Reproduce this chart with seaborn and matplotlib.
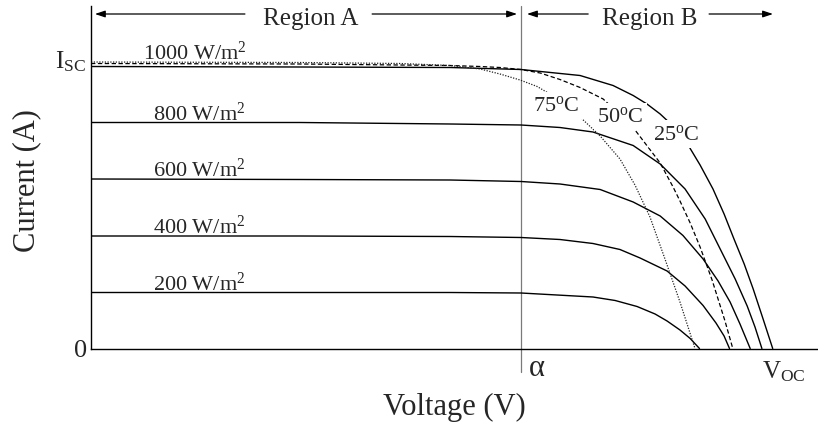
import matplotlib
matplotlib.use("Agg")
import matplotlib.pyplot as plt
import seaborn as sns

# I-V characteristics of a PV module (voltage in V, current in A)
# irradiance series at 25 C
v_1000 = [0, 6.97, 11.97, 14.33, 16.30, 17.40, 18.07, 18.53, 18.97, 19.47, 19.90,
          20.30, 20.73, 21.10, 21.43, 21.77, 22.07, 22.40, 22.72]
i_1000 = [5.64, 5.63, 5.62, 5.58, 5.46, 5.26, 5.06, 4.89, 4.69, 4.41, 4.07,
          3.67, 3.19, 2.69, 2.19, 1.69, 1.19, 0.59, 0]

v_800 = [0, 6.97, 11.97, 14.33, 15.63, 16.73, 18.07, 18.97, 19.80, 20.47, 21.07,
         21.47, 21.87, 22.13, 22.36]
i_800 = [4.52, 4.52, 4.49, 4.47, 4.42, 4.33, 4.06, 3.69, 3.19, 2.59, 1.87,
         1.39, 0.85, 0.43, 0]

v_600 = [0, 6.97, 11.97, 14.33, 15.63, 16.97, 18.07, 18.97, 19.73, 20.40, 20.90,
         21.30, 21.63, 21.97]
i_600 = [3.39, 3.38, 3.37, 3.34, 3.29, 3.18, 2.93, 2.65, 2.26, 1.79, 1.35,
         0.93, 0.49, 0]

v_400 = [0, 6.97, 11.97, 14.33, 15.63, 16.73, 17.63, 18.30, 19.20, 19.80, 20.40,
         20.83, 21.10, 21.28]
i_400 = [2.25, 2.25, 2.24, 2.22, 2.18, 2.10, 1.98, 1.81, 1.55, 1.25, 0.86,
         0.51, 0.25, 0]

v_200 = [0, 6.97, 11.97, 14.33, 16.73, 17.47, 18.20, 18.80, 19.20, 19.63, 19.97, 20.28]
i_200 = [1.12, 1.12, 1.12, 1.11, 1.03, 0.96, 0.84, 0.69, 0.55, 0.37, 0.20, 0]

# temperature series at 1000 W/m2
v_50c = [0, 6.97, 11.97, 12.97, 13.63, 14.33, 14.97, 15.63, 16.30, 17.07, 18.03,
         18.97, 19.40, 19.63, 19.97, 20.30, 20.70, 21.13, 21.39]
i_50c = [5.70, 5.69, 5.66, 5.64, 5.62, 5.58, 5.51, 5.38, 5.22, 4.99, 4.45,
         3.71, 3.23, 2.95, 2.51, 2.03, 1.37, 0.55, 0]

v_75c = [0, 6.97, 10.30, 11.97, 12.97, 13.63, 14.30, 14.87, 15.63, 16.30, 16.97,
         17.63, 18.13, 18.63, 19.13, 19.63, 20.13]
i_75c = [5.73, 5.72, 5.70, 5.66, 5.59, 5.49, 5.37, 5.24, 4.97, 4.63, 4.25,
         3.79, 3.27, 2.63, 1.79, 0.93, 0]

irradiance_labels = ["1000 W/m$^2$", "800 W/m$^2$", "600 W/m$^2$",
                     "400 W/m$^2$", "200 W/m$^2$"]
temperature_labels = ["75$^\\mathrm{o}$C", "50$^\\mathrm{o}$C", "25$^\\mathrm{o}$C"]

v_alpha = 14.33          # boundary between the two regions
v_oc = 22.72             # open-circuit voltage at 1000 W/m2, 25 C
i_sc = 5.64              # short-circuit current at 1000 W/m2, 25 C

sns.set_theme(style="white")
plt.rcParams["font.family"] = ["Liberation Serif", "DejaVu Serif"]
plt.rcParams["mathtext.fontset"] = "custom"
plt.rcParams["mathtext.rm"] = "Liberation Serif"
plt.rcParams["mathtext.it"] = "Liberation Serif:italic"
plt.rcParams["mathtext.bf"] = "Liberation Serif:bold"

W, H = 818, 427
fig = plt.figure(figsize=(W / 100, H / 100), dpi=100)
ax = fig.add_axes([91 / W, (H - 349.5) / H, (W - 91) / W, (349.5 - 7) / H])
ax.set_xlim(0, 24.23)
ax.set_ylim(0, 6.85)

solid = dict(color="black", linewidth=1.0, sort=False, estimator=None)
for v, i in [(v_1000, i_1000), (v_800, i_800), (v_600, i_600),
             (v_400, i_400), (v_200, i_200)]:
    sns.lineplot(x=v, y=i, ax=ax, **solid)
sns.lineplot(x=v_50c, y=i_50c, ax=ax, color="black", linewidth=0.9,
             linestyle=(0, (3.5, 2)), sort=False, estimator=None)
sns.lineplot(x=v_75c, y=i_75c, ax=ax, color="#222222", linewidth=0.9,
             linestyle=(0, (1, 1.2)), sort=False, estimator=None)

for s in ["top", "right"]:
    ax.spines[s].set_visible(False)
for s in ["left", "bottom"]:
    ax.spines[s].set_color("black")
    ax.spines[s].set_linewidth(1.0)
ax.set_xticks([])
ax.set_yticks([])
ax.set_xlabel("")
ax.set_ylabel("")

# region divider
ax.axvline(v_alpha, ymin=-0.0686, ymax=1, color="#7a7a7a", linewidth=0.9,
           clip_on=False, zorder=1)

# irradiance labels sit just above each plateau
top_level = max(i_1000[0], i_50c[0], i_75c[0])
plateaus = [top_level, i_800[0], i_600[0], i_400[0], i_200[0]]
label_x = [1.73, 2.07, 2.07, 2.07, 2.07]
for txt, lvl, lx in zip(irradiance_labels, plateaus, label_x):
    ax.text(lx, lvl + 0.06, txt, fontsize=16, ha="left", va="baseline")

# temperature labels break the curves they name
for txt, (tx, ty) in zip(temperature_labels,
                         [(14.73, 4.76), (16.87, 4.54), (18.73, 4.19)]):
    ax.text(tx, ty, txt, fontsize=16, ha="left", va="baseline", zorder=5,
            bbox=dict(facecolor="white", edgecolor="none", pad=2.5))

# axis annotations
ax.text(-1.2, 5.63, "I$_{\\mathrm{SC}}$", fontsize=18, ha="left", va="baseline",
        clip_on=False)
ax.text(-0.13, -0.03, "0", fontsize=19, ha="right", va="center", clip_on=False)
ax.text(14.6, -0.39, "\u03b1", fontsize=22, ha="left", va="center", clip_on=False)
ax.text(22.37, -0.57, "V$_{\\mathrm{OC}}$", fontsize=18, ha="left", va="baseline",
        clip_on=False)

# region arrows
arrow = dict(arrowstyle="-|>,head_length=0.6,head_width=0.2", color="black",
             lw=0.9, mutation_scale=10, shrinkA=0, shrinkB=0)
y_arrow = 6.69
for tail, tip in [(5.13, 0.13), (9.37, 14.2), (16.57, 14.53), (20.6, 22.73)]:
    ax.annotate("", xy=(tip, y_arrow), xytext=(tail, y_arrow), arrowprops=arrow,
                annotation_clip=False)
ax.text(7.33, 6.49, "Region A", fontsize=18, ha="center", va="baseline")
ax.text(18.63, 6.49, "Region B", fontsize=18, ha="center", va="baseline")

fig.text(27 / W, 1 - 180.5 / H, "Current (A)", fontsize=22, rotation=90,
         ha="center", va="center")
fig.text(454 / W, 1 - 415 / H, "Voltage (V)", fontsize=22, ha="center",
         va="baseline")

fig.savefig("out.png", dpi=100)
